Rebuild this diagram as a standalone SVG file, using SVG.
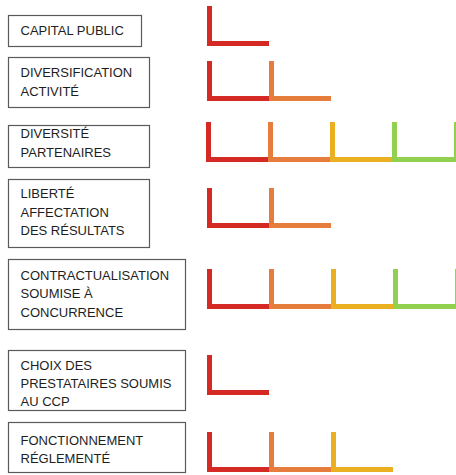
<svg xmlns="http://www.w3.org/2000/svg" xmlns:xlink="http://www.w3.org/1999/xlink" width="456" height="475" viewBox="0 0 456 475">
  <style>
    .box { fill: #ffffff; stroke: #5a5a5a; stroke-width: 1.2; }
    .lbl { font-family: "Liberation Sans", Arial, sans-serif; font-size: 13px; fill: #1e1e1e; }
    .seg { fill: none; stroke-width: 5; stroke-linecap: butt; stroke-linejoin: miter; }
    .red { stroke: #d52a23; }
    .orange { stroke: #e67d3c; }
    .yellow { stroke: #eab021; }
    .green { stroke: #92d050; }
  </style>
  <defs>
    <!-- one step of a level bar: upright stroke then baseline -->
    <path id="step" d="M2.5,0 V37.5 H62"/>
  </defs>

  <rect width="456" height="475" fill="#ffffff"/>

  <g id="capital-public">
    <rect class="box" x="8.5" y="15.5" width="133" height="31"/>
    <text class="lbl" x="20.5" y="35">CAPITAL PUBLIC</text>
    <use href="#step" class="seg red" x="207" y="6"/>
  </g>

  <g id="diversification-activite">
    <rect class="box" x="8.5" y="57.5" width="141" height="50"/>
    <text class="lbl" x="20.5" y="77">DIVERSIFICATION</text>
    <text class="lbl" x="20.5" y="96">ACTIVITÉ</text>
    <use href="#step" class="seg red" x="207" y="61"/>
    <use href="#step" class="seg orange" x="269" y="61"/>
  </g>

  <g id="diversite-partenaires">
    <rect class="box" x="8.5" y="125.5" width="141" height="42"/>
    <text class="lbl" x="20.5" y="138">DIVERSITÉ</text>
    <text class="lbl" x="20.5" y="157">PARTENAIRES</text>
    <use href="#step" class="seg red" x="206" y="122"/>
    <use href="#step" class="seg orange" x="268" y="122"/>
    <use href="#step" class="seg yellow" x="330" y="122"/>
    <use href="#step" class="seg green" x="392" y="122"/>
    <use href="#step" class="seg green" x="454" y="122"/>
  </g>

  <g id="liberte-affectation">
    <rect class="box" x="8.5" y="179.5" width="141" height="68"/>
    <text class="lbl" x="20.5" y="198">LIBERTÉ</text>
    <text class="lbl" x="20.5" y="217">AFFECTATION</text>
    <text class="lbl" x="20.5" y="235">DES RÉSULTATS</text>
    <use href="#step" class="seg red" x="207" y="188"/>
    <use href="#step" class="seg orange" x="269" y="188"/>
  </g>

  <g id="contractualisation">
    <rect class="box" x="8.5" y="259.5" width="177" height="70"/>
    <text class="lbl" x="20.5" y="280">CONTRACTUALISATION</text>
    <text class="lbl" x="20.5" y="298">SOUMISE À</text>
    <text class="lbl" x="20.5" y="317">CONCURRENCE</text>
    <use href="#step" class="seg red" x="207" y="269"/>
    <use href="#step" class="seg orange" x="269" y="269"/>
    <use href="#step" class="seg yellow" x="331" y="269"/>
    <use href="#step" class="seg green" x="393" y="269"/>
    <use href="#step" class="seg green" x="455" y="269"/>
  </g>

  <g id="choix-prestataires">
    <rect class="box" x="8.5" y="350.5" width="177" height="60"/>
    <text class="lbl" x="20.5" y="370">CHOIX DES</text>
    <text class="lbl" x="20.5" y="388">PRESTATAIRES SOUMIS</text>
    <text class="lbl" x="20.5" y="406">AU CCP</text>
    <use href="#step" class="seg red" x="207" y="355"/>
  </g>

  <g id="fonctionnement-reglemente">
    <rect class="box" x="8.5" y="422.5" width="177" height="50"/>
    <text class="lbl" x="20.5" y="445">FONCTIONNEMENT</text>
    <text class="lbl" x="20.5" y="463">RÉGLEMENTÉ</text>
    <use href="#step" class="seg red" x="207" y="432"/>
    <use href="#step" class="seg orange" x="269" y="432"/>
    <use href="#step" class="seg yellow" x="331" y="432"/>
  </g>
</svg>
